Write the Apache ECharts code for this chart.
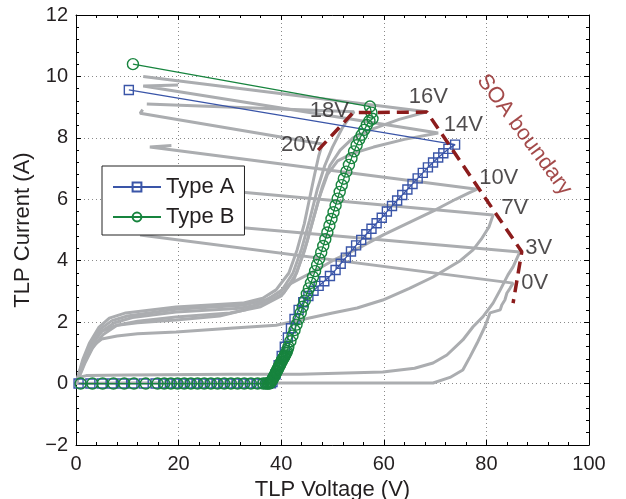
<!DOCTYPE html>
<html>
<head>
<meta charset="utf-8">
<script src="https://cdn.jsdelivr.net/npm/echarts@6/dist/echarts.min.js"></script>
<style>html,body{margin:0;padding:0;background:#fff;}#c{width:626px;height:499px;}</style>
</head>
<body>
<div id="c"></div>
<script>
// ---- data (TLP voltage V, TLP current A) ----
const xTicks = [0, 20, 40, 60, 80, 100];
const yTicks = [-2, 0, 2, 4, 6, 8, 10, 12];

const g0V = [[0,0],[10,0.02],[30,0.02],[50,0.02],[69.6,0.02],[72.9,0.2],[75.4,0.44],[76.8,0.87],[78.2,1.32],[79.7,1.85],[80.7,2.3],[82.7,2.4],[83.0,2.56],[83.6,2.72],[84.0,2.95],[84.6,3.1],[85.2,3.27],[12.5,4.84],[15.4,4.9]];
const g3V = [[0,0],[0.5,0.2],[2,0.26],[10,0.28],[30,0.3],[43.7,0.3],[59.8,0.38],[66,0.5],[69.6,0.67],[72.3,0.93],[75.4,1.42],[77.4,1.85],[79.3,2.17],[81.3,2.62],[82.7,3.05],[84.2,3.54],[85.2,3.8],[86.5,4.28],[17,5.3]];
const g7V = [[0,0],[1,0.4],[2,0.85],[3.5,1.25],[5,1.45],[8,1.55],[12,1.62],[19.5,1.68],[30,1.8],[39,1.9],[43.7,2.07],[50,2.3],[54.8,2.46],[59.8,2.72],[65,3.1],[69.6,3.47],[74.9,4.0],[77.4,4.35],[79,4.7],[80.5,5.1],[81.3,5.49],[18,6.45]];
const g10V = [[0,0],[1,0.45],[2,0.95],[3.5,1.4],[5,1.7],[8,1.9],[12,1.98],[19.5,2.07],[28,2.2],[33,2.4],[38,2.8],[42,3.27],[46.8,3.69],[50,4.0],[55,4.4],[60,4.85],[65,5.25],[70,5.65],[74,6.0],[76.5,6.2],[78.2,6.33],[14.4,7.7],[18.6,7.75]];
const g14V = [[0,0],[0.7,0.25],[1.7,0.65],[3.2,1.15],[5.3,1.6],[8,1.9],[12,2.03],[19.5,2.17],[30,2.3],[36,2.5],[40,2.85],[42.5,3.4],[44.5,4.3],[46,5.2],[47.5,6.1],[49,6.8],[51,7.25],[54,7.5],[58,7.7],[64,7.95],[70.6,8.16],[13.1,9.69],[19.9,9.72]];
const g16V = [[0,0],[0.6,0.28],[1.5,0.7],[3,1.22],[5,1.7],[7.5,1.98],[11,2.15],[19.5,2.33],[32,2.45],[37,2.62],[40.5,2.95],[43,3.6],[45,4.6],[46.5,5.5],[48,6.4],[49.5,7.1],[51.5,7.6],[54,8.0],[58,8.3],[63,8.6],[68.4,8.85],[13.1,10.0]];
const g18V = [[0,0],[0.5,0.28],[1.4,0.75],[2.8,1.28],[4.8,1.78],[7,2.05],[10,2.2],[19.5,2.42],[32.5,2.55],[37,2.72],[40,3.0],[42.3,3.6],[44,4.4],[45.5,5.3],[47,6.3],[48.5,7.1],[50,7.7],[52,8.35],[53.4,8.68],[54.2,8.85],[13.8,9.1]];
const g20V = [[0,0],[0.5,0.3],[1.3,0.77],[2.6,1.31],[4.5,1.84],[6.5,2.13],[9.7,2.3],[19.5,2.49],[32.5,2.62],[36.4,2.78],[39,3.05],[41.5,3.6],[43.1,4.35],[44.5,5.2],[45.5,6.0],[46.5,6.8],[47.3,7.4],[48,7.8],[12.5,8.8],[13.0,8.92]];

const typeA = [[0.5,0],[2.8,0],[5.0,0],[7.0,0],[9.0,0],[11.0,0],[13.2,0],[15.5,0],[17.0,0],[18.3,0],[19.6,0],[20.9,0],[22.2,0],[23.5,0],[24.8,0],[26.1,0],[27.4,0],[28.7,0],[30.0,0],[31.3,0],[32.6,0],[33.9,0],[35.2,0],[36.4,0],[37.4,0],[38.0,0.01],
  [38.3,0.05],[38.9,0.3],[39.5,0.6],[40.1,0.9],[40.7,1.2],[41.3,1.5],[41.9,1.8],[42.6,2.1],[43.4,2.4],[44.3,2.65],[45.3,2.85],[46.3,3.02],[47.3,3.18],[48.4,3.33],[49.5,3.5],[50.6,3.7],[51.6,3.9],[52.6,4.1],[53.6,4.3],[54.6,4.5],[55.6,4.68],[56.6,4.86],[57.6,5.04],[58.6,5.22],[59.6,5.4],[60.6,5.6],[61.6,5.78],[62.6,5.96],[63.6,6.14],[64.6,6.32],[65.6,6.5],[66.6,6.68],[67.6,6.86],[68.6,7.04],[69.6,7.2],[70.6,7.36],[71.6,7.5],[72.6,7.64],[73.9,7.78],[10.3,9.56]];

const typeB = [[0.9,0],[3.2,0],[5.2,0],[7.3,0],[9.4,0],[11.3,0],[13.6,0],[15.9,0],[17.2,0],[18.5,0],[19.8,0],[21.1,0],[22.4,0],[23.7,0],[25.0,0],[26.3,0],[27.6,0],[28.9,0],[30.2,0],[31.5,0],[32.8,0],[34.1,0],[35.4,0],[36.5,0],[37.0,0],[37.3,0],[37.6,0],[37.8,0.01],[37.9,0.03],
  [38.0,0.06],[38.1,0.08],[38.2,0.11],[38.3,0.14],[38.4,0.17],[38.5,0.2],[38.6,0.23],[38.7,0.26],[38.8,0.29],[38.9,0.32],[39.0,0.37],[39.1,0.4],[39.2,0.42],[39.3,0.47],[39.4,0.5],[39.5,0.52],[39.6,0.57],[39.7,0.6],[39.8,0.62],[39.9,0.67],[40.0,0.7],[40.1,0.72],[40.2,0.77],[40.3,0.8],[40.4,0.82],[40.5,0.85],[40.6,0.88],[40.7,0.91],[40.8,0.95],[41.0,1.0],[41.1,1.05],[41.3,1.13],[41.4,1.2],
  [41.8,1.38],[42.2,1.56],[42.6,1.74],[43.0,1.92],[43.4,2.1],[43.8,2.3],[44.2,2.5],[44.6,2.7],[45.0,2.92],[45.4,3.1],[45.8,3.28],[46.2,3.47],[46.6,3.66],[47.0,3.86],[47.4,4.06],[47.8,4.27],[48.2,4.48],[48.6,4.7],[49.0,4.92],[49.4,5.14],[49.8,5.36],[50.2,5.58],[50.6,5.8],[51.0,6.02],[51.4,6.24],[51.8,6.46],[52.2,6.67],[52.7,6.9],[53.2,7.12],[53.7,7.34],[54.2,7.56],[54.7,7.76],[55.2,7.95],[55.7,8.1],[56.2,8.26],[56.7,8.42],[57.2,8.55],[57.8,8.62],[57.6,8.82],[57.3,9.02],[11.1,10.4]];

const soaBoundary = [[47.2,7.6],[54.0,8.82],[68.4,8.84],[86.9,4.29],[85.2,2.62]];

const biasLabels = [[43.8,7.78,'20V'],[49.4,8.88,'18V'],[68.7,9.33,'16V'],[75.5,8.42,'14V'],[82.4,6.69,'10V'],[85.5,5.72,'7V'],[90.2,4.42,'3V'],[89.4,3.28,'0V']];
const soaLabel = [[87.4,8.1,'SOA boundary']];

// ---- chart ----
const FONT = '"Liberation Sans", Arial, Helvetica, sans-serif';
const TXT = '#231f20';
const GRAY = '#abadb0';
const BLUE = '#3a55a8';
const GREEN = '#17843e';
const RED = '#8c1c1c';

const grayCurves = [g0V, g3V, g7V, g10V, g14V, g16V, g18V, g20V];
const series = grayCurves.map((d, i) => ({
  type: 'line', name: 'g' + i, data: d, symbol: 'none', silent: true, z: 2,
  lineStyle: { color: GRAY, width: 3 }
}));
series.push({
  type: 'line', name: 'Type A', data: typeA, symbol: 'rect', symbolSize: 9, z: 3, silent: true,
  itemStyle: { color: 'rgba(255,255,255,0)', borderColor: BLUE, borderWidth: 1.4 },
  lineStyle: { color: BLUE, width: 1.3 }
});
series.push({
  type: 'line', name: 'Type B', data: typeB, symbol: 'circle', symbolSize: 11, z: 4, silent: true,
  itemStyle: { color: 'rgba(255,255,255,0)', borderColor: GREEN, borderWidth: 1.4 },
  lineStyle: { color: GREEN, width: 1.3 }
});
series.push({
  type: 'line', name: 'SOA', data: soaBoundary, symbol: 'none', z: 5, silent: true,
  lineStyle: { color: RED, width: 3.5, type: [12, 7] }
});
series.push({
  type: 'scatter', name: 'labels', data: biasLabels, symbolSize: 0, z: 6, silent: true,
  label: { show: true, position: 'inside', formatter: p => p.value[2], color: TXT, fontSize: 22, fontFamily: FONT }
});
series.push({
  type: 'scatter', name: 'soaLabel', data: soaLabel, symbolSize: 0, z: 6, silent: true,
  label: { show: true, position: 'inside', rotate: -53.5, formatter: p => p.value[2], color: RED, fontSize: 22, fontFamily: FONT }
});

const axisCommon = {
  type: 'value',
  axisLine: { show: true, onZero: false, lineStyle: { color: '#000', width: 1 } },
  axisTick: { show: true, inside: true, length: 5, lineStyle: { color: '#000' } },
  minorTick: { show: true, splitNumber: 5, length: 3, lineStyle: { color: '#000' } },
};

const option = {
  animation: false,
  backgroundColor: '#fff',
  grid: { left: 76, right: 37, top: 15, bottom: 54, containLabel: false, outerBoundsMode: 'none' },
  legend: {
    data: ['Type A', 'Type B'], orient: 'vertical', left: 102, top: 166,
    itemWidth: 48, itemHeight: 11, itemGap: 8,
    padding: [10, 10, 7, 10],
    backgroundColor: '#fff', borderColor: '#222', borderWidth: 1,
    textStyle: { fontSize: 22, color: TXT, fontFamily: FONT }
  },
  xAxis: [
    Object.assign({}, axisCommon, {
      min: 0, max: 100, interval: 20, position: 'bottom',
      axisLabel: { fontSize: 20, color: TXT, fontFamily: FONT, margin: 9, formatter: v => String(v) },
      splitLine: { show: true, lineStyle: { color: '#8a8a8a', width: 1, type: [1, 3] } },
      name: 'TLP Voltage (V)', nameLocation: 'middle', nameGap: 31,
      nameTextStyle: { fontSize: 22, color: TXT, fontFamily: FONT }
    }),
    Object.assign({}, axisCommon, {
      min: 0, max: 100, interval: 20, position: 'top',
      axisLabel: { show: false }, splitLine: { show: false }
    })
  ],
  yAxis: [
    Object.assign({}, axisCommon, {
      min: -2, max: 12, interval: 2, position: 'left',
      axisLabel: { fontSize: 20, color: TXT, fontFamily: FONT, margin: 8, formatter: v => String(v).replace('-', '\u2212') },
      splitLine: { show: true, lineStyle: { color: '#8a8a8a', width: 1, type: [1, 3] } },
      name: 'TLP Current (A)', nameLocation: 'middle', nameGap: 42,
      nameTextStyle: { fontSize: 22, color: TXT, fontFamily: FONT }
    }),
    Object.assign({}, axisCommon, {
      min: -2, max: 12, interval: 2, position: 'right',
      axisLabel: { show: false }, splitLine: { show: false }
    })
  ],
  series: series
};

const chart = echarts.init(document.getElementById('c'), null, { renderer: 'canvas' });
chart.setOption(option);
</script>
</body>
</html>
